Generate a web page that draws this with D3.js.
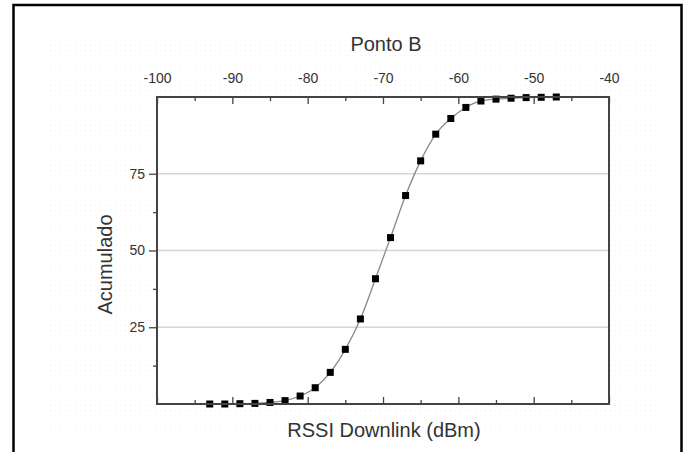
<!DOCTYPE html>
<html lang="pt">
<head>
<meta charset="utf-8">
<script src="https://d3js.org/d3.v7.min.js"></script>
<style>
  body { margin: 0; background: #fff; }
  svg { display: block; font-family: "Liberation Sans", Arial, sans-serif; }
</style>
</head>
<body>
<div id="chart"></div>
<script>
// data
const rssi = [-93, -91, -89, -87, -85, -83, -81, -79, -77, -75, -73, -71, -69,
              -67, -65, -63, -61, -59, -57, -55, -53, -51, -49, -47];
const acumulado = [0, 0, 0.1, 0.2, 0.5, 1.1, 2.6, 5.3, 10.3, 17.8, 27.7, 40.8, 54.2,
                   67.9, 79.2, 87.9, 93.0, 96.6, 98.7, 99.3, 99.6, 99.8, 99.9, 100];
const xTicks = [-100, -90, -80, -70, -60, -50, -40];
const yTicks = [25, 50, 75];
const title = "Ponto B";
const xTitle = "RSSI Downlink (dBm)";
const yTitle = "Acumulado";

let W = 686, H = 452;
let margin = {top: 97, left: 157},
    width = 452,
    height = 307;

let svg = d3.select("#chart").append("svg")
  .attr("width", W)
  .attr("height", H);

// faint dotted backdrop
let defs = svg.append("defs");
defs.append("pattern")
  .attr("id", "dots")
  .attr("width", 5).attr("height", 5)
  .attr("patternUnits", "userSpaceOnUse")
  .append("rect")
  .attr("width", 1).attr("height", 1)
  .attr("fill", "#f1f1f1");

svg.append("rect")
  .attr("x", 43).attr("y", 26)
  .attr("width", 617).attr("height", 418)
  .attr("fill", "url(#dots)");

// outer border
svg.append("rect")
  .attr("x", 13.5).attr("y", 5)
  .attr("width", 668).attr("height", 470)
  .attr("fill", "none")
  .attr("stroke", "#000")
  .attr("stroke-width", 2.5);

let g = svg.append("g")
  .attr("transform", "translate(" + margin.left + "," + margin.top + ")");

let x = d3.scaleLinear().domain([-100, -40]).range([0, width]);
let y = d3.scaleLinear().domain([0, 100]).range([height, 0]);
let fmt = d => String(d);

g.append("rect")
  .attr("width", width).attr("height", height)
  .attr("fill", "#fff");

// grid lines
g.selectAll(".grid")
  .data(yTicks)
  .enter().append("line")
  .attr("x1", 0).attr("x2", width)
  .attr("y1", d => y(d)).attr("y2", d => y(d))
  .attr("stroke", "#d6d6d6")
  .attr("stroke-width", 1.5);

// top axis with labels, ticks pointing in
let minorX = d3.range(-95, -40, 10);
let topAxis = g.append("g")
  .call(d3.axisTop(x).tickValues(xTicks).tickFormat(fmt).tickSize(-7).tickSizeOuter(0).tickPadding(14));
topAxis.select(".domain").remove();
topAxis.selectAll("text").attr("font-size", 14).attr("fill", "#333").attr("font-family", null);
topAxis.selectAll("line").attr("stroke", "#444").attr("stroke-width", 1.3);
g.append("g")
  .call(d3.axisTop(x).tickValues(minorX).tickSize(-4).tickFormat(""))
  .call(s => s.select(".domain").remove())
  .selectAll("line").attr("stroke", "#444").attr("stroke-width", 1.3);

// bottom ticks pointing in, no labels
g.append("g")
  .attr("transform", "translate(0," + height + ")")
  .call(d3.axisBottom(x).tickValues(xTicks).tickSize(-7).tickFormat(""))
  .call(s => s.select(".domain").remove())
  .selectAll("line").attr("stroke", "#444").attr("stroke-width", 1.3);
g.append("g")
  .attr("transform", "translate(0," + height + ")")
  .call(d3.axisBottom(x).tickValues(minorX).tickSize(-4).tickFormat(""))
  .call(s => s.select(".domain").remove())
  .selectAll("line").attr("stroke", "#444").attr("stroke-width", 1.3);

// left axis, ticks outward
let leftAxis = g.append("g")
  .call(d3.axisLeft(y).tickValues(yTicks).tickFormat(fmt).tickSize(8).tickPadding(4));
leftAxis.select(".domain").remove();
leftAxis.selectAll("text").attr("font-size", 14).attr("fill", "#333").attr("font-family", null);
leftAxis.selectAll("line").attr("stroke", "#444").attr("stroke-width", 1.3);
g.append("g")
  .call(d3.axisLeft(y).tickValues([12.5, 37.5, 62.5]).tickSize(4).tickFormat(""))
  .call(s => s.select(".domain").remove())
  .selectAll("line").attr("stroke", "#444").attr("stroke-width", 1.3);

// fit line
g.append("path")
  .datum(rssi.map((r, i) => [r, acumulado[i]]))
  .attr("fill", "none")
  .attr("stroke", "#888")
  .attr("stroke-width", 1.3)
  .attr("d", d3.line()
    .x(d => x(d[0]))
    .y(d => y(d[1]))
    .curve(d3.curveMonotoneX));

// markers
g.selectAll(".pt")
  .data(rssi)
  .enter().append("rect")
  .attr("x", (d) => x(d) - 3.5)
  .attr("y", (d, i) => y(acumulado[i]) - 3.5)
  .attr("width", 7).attr("height", 7)
  .attr("fill", "#000");

// frame
g.append("rect")
  .attr("width", width).attr("height", height)
  .attr("fill", "none")
  .attr("stroke", "#444")
  .attr("stroke-width", 2);

// titles
svg.append("text")
  .attr("x", 386)
  .attr("y", 51)
  .attr("text-anchor", "middle")
  .attr("font-size", 20)
  .attr("fill", "#333")
  .text(title);

svg.append("text")
  .attr("x", margin.left + width / 2 + 1)
  .attr("y", 437)
  .attr("text-anchor", "middle")
  .attr("font-size", 20)
  .attr("fill", "#333")
  .text(xTitle);

svg.append("text")
  .attr("transform", "translate(112," + (margin.top + height / 2 + 14) + ") rotate(-90)")
  .attr("text-anchor", "middle")
  .attr("font-size", 20)
  .attr("fill", "#333")
  .text(yTitle);
</script>
</body>
</html>
